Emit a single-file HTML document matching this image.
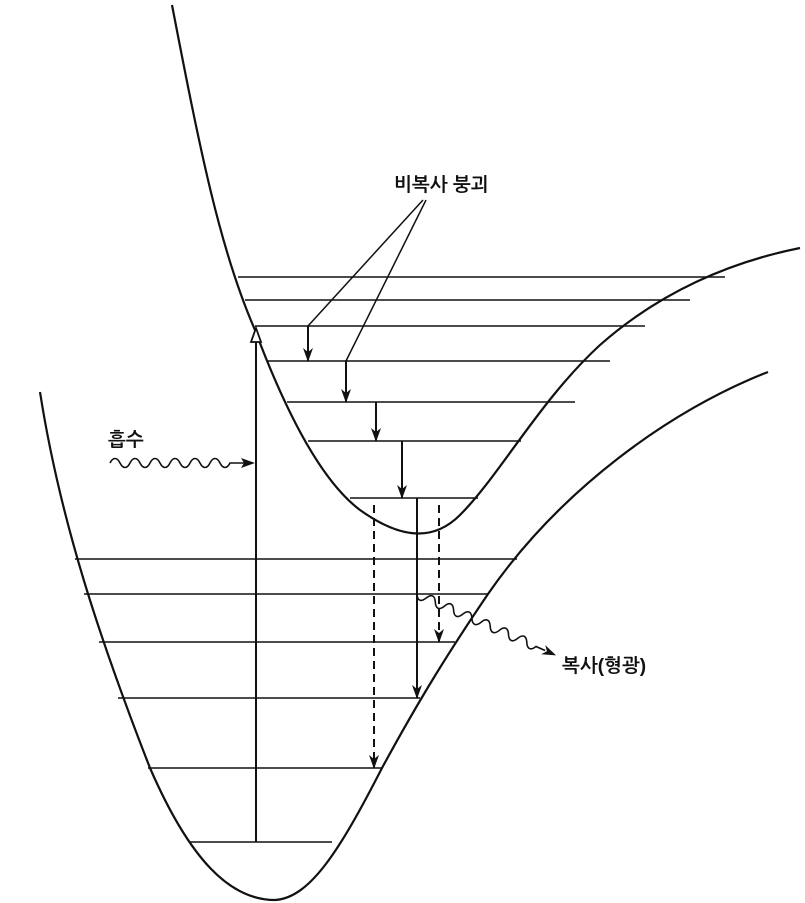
<!DOCTYPE html>
<html><head><meta charset="utf-8"><style>html,body{margin:0;padding:0;background:#fff}svg{display:block}</style></head><body>
<svg width="805" height="903" viewBox="0 0 805 903" xmlns="http://www.w3.org/2000/svg">
<defs>
<marker id="ah" markerWidth="14" markerHeight="10" refX="13" refY="5" orient="auto" markerUnits="userSpaceOnUse" viewBox="0 0 14 10">
<path d="M0,0 L14,5 L0,10 L4,5 Z" fill="#111"/></marker>
</defs>
<g fill="none" stroke="#111" stroke-width="2.2">
<path d="M172,5 C200,150 220,250 255,330 C285,410 320,480 360,510 C395,535 430,545 460,515 C500,475 540,400 600,345 C660,292 730,262 800,248"/>
<path d="M40,392 C60,520 100,640 150,768 C190,860 230,900 275,900 C310,898 340,850 382,768 C420,698 450,650 488,594 C560,490 670,410 768,372"/>
</g>
<g stroke="#111" stroke-width="1.5">
<line x1="238" y1="277" x2="725" y2="277"/>
<line x1="245" y1="300" x2="690" y2="300"/>
<line x1="255" y1="326" x2="645" y2="326"/>
<line x1="268" y1="361" x2="610" y2="361"/>
<line x1="287" y1="402" x2="575" y2="402"/>
<line x1="308" y1="441" x2="521" y2="441"/>
<line x1="350" y1="498" x2="478" y2="498"/>
<line x1="75" y1="559" x2="517" y2="559"/>
<line x1="84" y1="594" x2="488" y2="594"/>
<line x1="99" y1="642" x2="455" y2="642"/>
<line x1="118" y1="698" x2="420" y2="698"/>
<line x1="148" y1="768" x2="382" y2="768"/>
<line x1="190" y1="842" x2="332" y2="842"/>
<polyline fill="none" points="423,200 308,326"/>
<polyline fill="none" points="426,200 346,361"/>
</g>
<g stroke="#111" stroke-width="2" fill="none">
<line x1="256" y1="842" x2="256" y2="333"/>
<line x1="308" y1="326" x2="308" y2="361" marker-end="url(#ah)"/>
<line x1="346" y1="361" x2="346" y2="402" marker-end="url(#ah)"/>
<line x1="376" y1="402" x2="376" y2="441" marker-end="url(#ah)"/>
<line x1="402" y1="441" x2="402" y2="498" marker-end="url(#ah)"/>
<line x1="417" y1="498" x2="417" y2="698" marker-end="url(#ah)"/>
<line x1="374" y1="505" x2="374" y2="768" stroke-dasharray="8,5" marker-end="url(#ah)"/>
<line x1="439" y1="505" x2="439" y2="642" stroke-dasharray="8,5" marker-end="url(#ah)"/>
</g>
<g stroke="#111" stroke-width="1.6" fill="none">
<path d="M110,463 c3,-6 7,-6 10,0 c3,6 7,6 10,0 c3,-6 7,-6 10,0 c3,6 7,6 10,0 c3,-6 7,-6 10,0 c3,6 7,6 10,0 c3,-6 7,-6 10,0 c3,6 7,6 10,0 c3,-6 7,-6 10,0 c3,6 7,6 10,0 c3,-6 7,-6 10,0 c3,6 7,6 10,0 L252,463"/>
<g transform="translate(417,594) rotate(23.8)">
<path d="M0,0 c3,6 7,6 10,0 c3,-6 7,-6 10,0 c3,6 7,6 10,0 c3,-6 7,-6 10,0 c3,6 7,6 10,0 c3,-6 7,-6 10,0 c3,6 7,6 10,0 c3,-6 7,-6 10,0 c3,6 7,6 10,0 c3,-6 7,-6 10,0 c3,6 7,6 10,0 c3,-6 7,-6 10,0 c3,6 7,6 10,0 L140,0"/>
<path d="M138,-5 L152,0 L138,5 L142,0 Z" fill="#111" stroke="none"/>
</g>
</g>
<path d="M255,463 L241,458 L244,463 L241,468 Z" fill="#111"/>
<path d="M256,328 L251,342 L261,342 Z" fill="#fff" stroke="#111" stroke-width="1.8"/>
<g font-family="'Liberation Sans','NanumGothic','Noto Sans CJK KR',sans-serif" font-size="19" fill="#111" font-weight="bold">
<text x="394" y="191">비복사 붕괴</text>
<text x="108" y="446">흡수</text>
<text x="562" y="672">복사(형광)</text>
</g>
</svg>
</body></html>
